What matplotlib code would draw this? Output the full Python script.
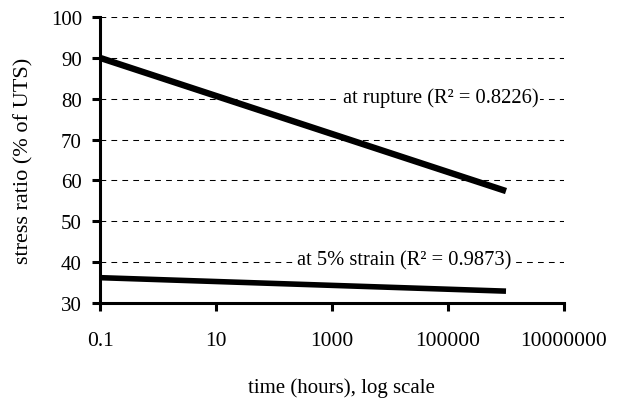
import matplotlib
matplotlib.use("Agg")
import matplotlib.pyplot as plt
import matplotlib.transforms as mtransforms

plt.rcParams['font.family'] = ['Liberation Serif', 'DejaVu Serif']

# data (fitted trend lines)
time_hours = [0.1, 1e6]
rupture = [90.0, 57.4]
strain_5 = [36.2, 32.9]
x_ticks = [0.1, 10, 1000, 100000, 10000000]
x_tick_labels = ["0.1", "10", "1000", "100000", "10000000"]
y_ticks = [30, 40, 50, 60, 70, 80, 90, 100]

fig = plt.figure(figsize=(6.24, 4.06), dpi=100)
ax = fig.add_axes([100 / 624, 102 / 406, 464 / 624, 286 / 406])

# dashed gridlines (not at the bottom axis)
for y in y_ticks[1:]:
    ax.axhline(y, color='black', lw=0.75, linestyle=(0, (5.5, 5.0)), zorder=1)

ax.plot(time_hours, rupture, color='black', lw=4.6, solid_capstyle='butt', zorder=3)
ax.plot(time_hours, strain_5, color='black', lw=4.0, solid_capstyle='butt', zorder=3)

ax.set_xscale('log')
ax.set_xlim(0.1, 1e7)
ax.set_ylim(30, 100)
ax.set_xticks(x_ticks)
ax.set_xticklabels(x_tick_labels)
ax.minorticks_off()
ax.set_yticks(y_ticks)

for side in ['top', 'right']:
    ax.spines[side].set_visible(False)
for side in ['left', 'bottom']:
    ax.spines[side].set_linewidth(2.2)

ax.tick_params(axis='both', direction='out', length=6, width=2.2)
ax.tick_params(axis='x', pad=14, labelsize=15.5)
ax.tick_params(axis='y', pad=7, labelsize=15)

ax.set_xlabel("time (hours), log scale", fontsize=15)
ax.set_ylabel("stress ratio (% of UTS)", fontsize=16)
ax.xaxis.set_label_coords(0.52, -0.26)
ax.yaxis.set_label_coords(-0.144, 0.5)

trans = mtransforms.blended_transform_factory(ax.transAxes, ax.transData)
box = dict(facecolor='white', edgecolor='none', pad=1.5)
ax.text(0.734, 80.5, "at rupture (R² = 0.8226)", transform=trans, ha='center',
        va='center', fontsize=14.8, bbox=box, zorder=2)
ax.text(0.656, 40.5, "at 5% strain (R² = 0.9873)", transform=trans, ha='center',
        va='center', fontsize=14.8, bbox=box, zorder=2)

fig.savefig("out.png", dpi=100)
